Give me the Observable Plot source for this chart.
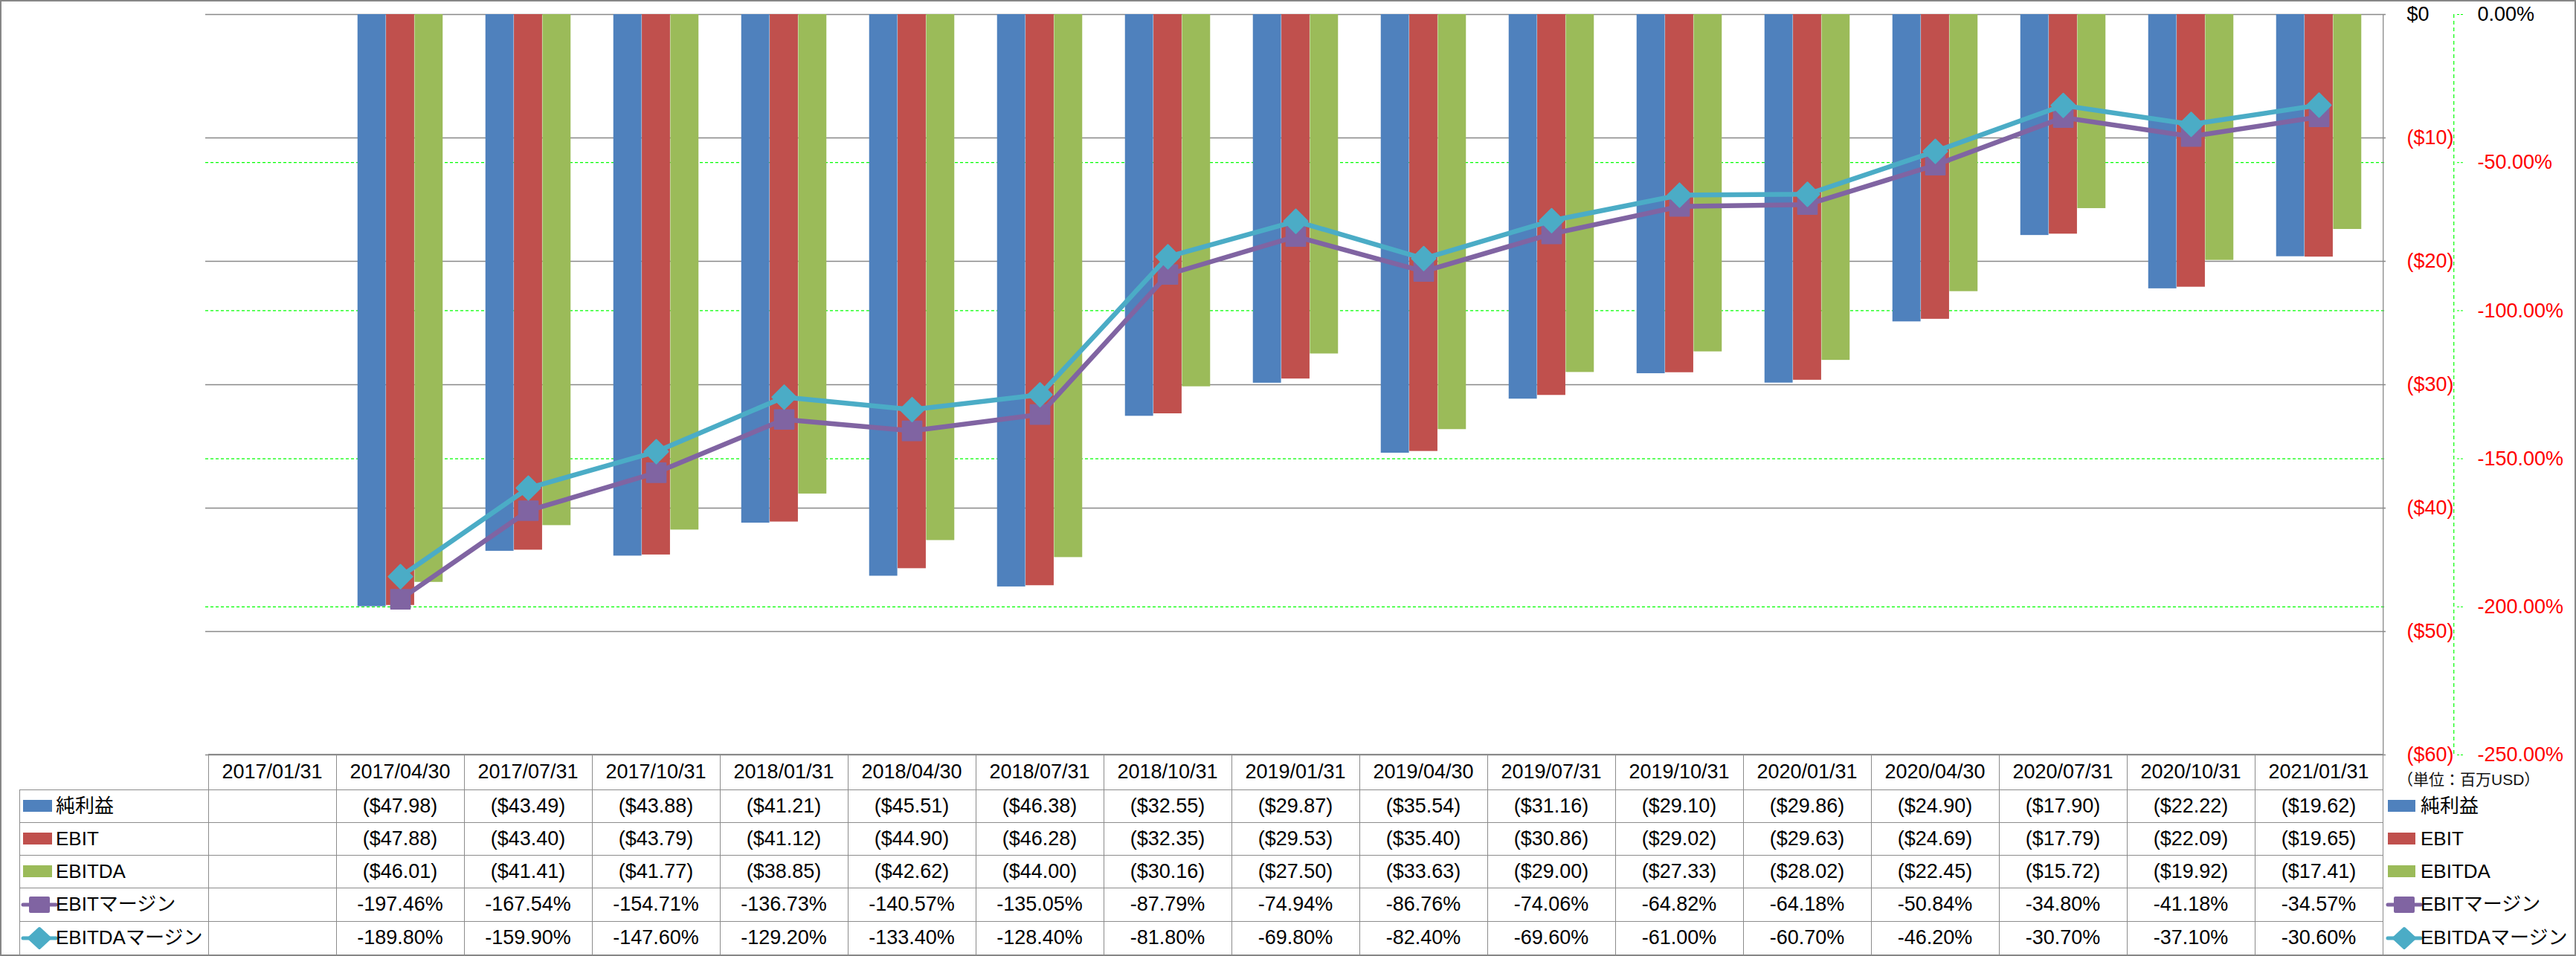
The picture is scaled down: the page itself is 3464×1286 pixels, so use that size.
<!DOCTYPE html>
<html>
<head>
<meta charset="utf-8">
<script src="https://cdn.jsdelivr.net/npm/d3@7"></script>
<script src="https://cdn.jsdelivr.net/npm/@observablehq/plot@0.6"></script>
<style>
  body { margin: 0; background: #fff; }
  #chart { position: relative; width: 3464px; height: 1286px; overflow: hidden;
           font-family: "Liberation Sans", "Noto Sans CJK JP", sans-serif; color: #000; }
  #chart svg { position: absolute; left: 0; top: 0; }
  #frame { position: absolute; left: 0; top: 0; width: 3464px; height: 1286px; box-sizing: border-box;
           border: 2px solid #878787; pointer-events: none; }
  .hl, .vl { position: absolute; background: #8c8c8c; }
  .cell { position: absolute; text-align: center; white-space: nowrap; font-size: 27px; }
  .lab { position: absolute; white-space: nowrap; font-size: 26px; text-align: left; }
  .sw { position: absolute; }
</style>
</head>
<body>
<div id="chart"></div>
<script>
// ---------------- data ----------------
const dates = ["2017/01/31","2017/04/30","2017/07/31","2017/10/31","2018/01/31","2018/04/30","2018/07/31","2018/10/31",
  "2019/01/31","2019/04/30","2019/07/31","2019/10/31","2020/01/31","2020/04/30","2020/07/31","2020/10/31","2021/01/31"];
const netIncome = [null,-47.98,-43.49,-43.88,-41.21,-45.51,-46.38,-32.55,-29.87,-35.54,-31.16,-29.10,-29.86,-24.90,-17.90,-22.22,-19.62];
const ebit      = [null,-47.88,-43.40,-43.79,-41.12,-44.90,-46.28,-32.35,-29.53,-35.40,-30.86,-29.02,-29.63,-24.69,-17.79,-22.09,-19.65];
const ebitda    = [null,-46.01,-41.41,-41.77,-38.85,-42.62,-44.00,-30.16,-27.50,-33.63,-29.00,-27.33,-28.02,-22.45,-15.72,-19.92,-17.41];
const ebitMargin   = [null,-197.46,-167.54,-154.71,-136.73,-140.57,-135.05,-87.79,-74.94,-86.76,-74.06,-64.82,-64.18,-50.84,-34.80,-41.18,-34.57];
const ebitdaMargin = [null,-189.80,-159.90,-147.60,-129.20,-133.40,-128.40,-81.80,-69.80,-82.40,-69.60,-61.00,-60.70,-46.20,-30.70,-37.10,-30.60];
const seriesNames = ["純利益","EBIT","EBITDA","EBITマージン","EBITDAマージン"];
const dollarTicks = [0,-10,-20,-30,-40,-50,-60];
const pctTicks = [0,-50,-100,-150,-200,-250];
const unitLabel = "（単位：百万USD）";

// ---------------- styles ----------------
const colors = ["#4F81BD","#C0504D","#9BBB59","#8064A2","#4BACC6"];
const PCT = 60 / 250; // secondary axis: -250% aligns with -$60

const W = 3464, H = 1286, ML = 276, MR = W - 3208, MT = 19, MB = H - 1015;
const bw = (W - ML - MR) / dates.length;
const barW = bw / 4.5;
const inset = (bw - barW) / 2;
const last = dates[dates.length - 1];

const rows = s => dates.map((d, i) => ({date: d, value: s[i]})).filter(r => r.value != null);
const fmtUSD = v => v === 0 ? "$0" : `($${Math.abs(v)})`;
const fmtPct = v => v.toFixed(2) + "%";

const plot = Plot.plot({
  width: W, height: H,
  marginLeft: ML, marginRight: MR, marginTop: MT, marginBottom: MB,
  x: {type: "band", domain: dates, padding: 0, axis: null},
  y: {domain: [-60, 0], axis: null},
  style: {fontFamily: '"Liberation Sans", "Noto Sans CJK JP", sans-serif', fontSize: "27px", background: "transparent", overflow: "visible"},
  marks: [
    Plot.ruleY(pctTicks.filter(p => p !== 0 && p !== -250), {y: p => p * PCT, stroke: "#00ff00", strokeWidth: 1.2, strokeDasharray: "4,3"}),
    Plot.ruleY(dollarTicks, {stroke: "#898989", strokeWidth: 1.3}),
    Plot.barY(rows(netIncome), {x: "date", y: "value", fill: colors[0], insetLeft: inset, insetRight: inset, dx: -barW}),
    Plot.barY(rows(ebit),      {x: "date", y: "value", fill: colors[1], insetLeft: inset, insetRight: inset}),
    Plot.barY(rows(ebitda),    {x: "date", y: "value", fill: colors[2], insetLeft: inset, insetRight: inset, dx: barW}),
    // right edge of plot area
    Plot.ruleX([last], {dx: bw / 2, stroke: "#898989", strokeWidth: 1.3}),
    // secondary axis line (green dashed)
    Plot.ruleX([last], {dx: bw / 2 + 95, stroke: "#00ff00", strokeWidth: 1.2, strokeDasharray: "5,4"}),
    Plot.axisY({anchor: "right", ticks: pctTicks.map(p => p * PCT), tickSize: 9, tickFormat: () => "", label: null,
                dx: 95, stroke: "#00ff00", strokeDasharray: "3,2"}),
    // margin lines
    Plot.line(rows(ebitMargin), {x: "date", y: d => d.value * PCT, stroke: colors[3], strokeWidth: 6.5}),
    Plot.dot(rows(ebitMargin), {x: "date", y: d => d.value * PCT, symbol: "square", r: 14.5, fill: colors[3], stroke: colors[3], strokeWidth: 2, strokeLinejoin: "round"}),
    Plot.line(rows(ebitdaMargin), {x: "date", y: d => d.value * PCT, stroke: colors[4], strokeWidth: 6.5}),
    Plot.dot(rows(ebitdaMargin), {x: "date", y: d => d.value * PCT, symbol: "diamond2", r: 14.5, fill: colors[4], stroke: colors[4], strokeWidth: 2, strokeLinejoin: "round"}),
    // axis labels
    Plot.text(dollarTicks, {y: d => d, frameAnchor: "right", dx: 28, textAnchor: "start", text: fmtUSD,
                            fill: d => d < 0 ? "#ff0000" : "#000000", fontSize: 27}),
    Plot.text(pctTicks, {y: d => d * PCT, frameAnchor: "right", dx: 123, textAnchor: "start", text: fmtPct,
                         fill: d => d < 0 ? "#ff0000" : "#000000", fontSize: 27})
  ]
});

const chart = document.getElementById("chart");
chart.appendChild(plot);

// ---------------- data table (below plot, aligned to x scale) ----------------
const xs = plot.scale("x");
const bandW = xs.bandwidth;
const labelLeft = 26;
const headerTop = 1014, headerBot = 1062;
const rowTops = [1062, 1106, 1150, 1194, 1239, 1284];
const tableRight = xs.apply(last) + bandW;

function add(cls, style, text) {
  const el = document.createElement("div");
  el.className = cls;
  Object.assign(el.style, style);
  if (text != null) el.textContent = text;
  chart.appendChild(el);
  return el;
}
// horizontal lines
add("hl", {left: xs.apply(dates[0]) + "px", top: headerTop + "px", width: (tableRight - xs.apply(dates[0])) + "px", height: "1.4px"});
rowTops.forEach(t => add("hl", {left: labelLeft + "px", top: t + "px", width: (tableRight - labelLeft) + "px", height: "1.4px"}));
// vertical lines
add("vl", {left: labelLeft + "px", top: headerBot + "px", width: "1.4px", height: (rowTops[5] - headerBot) + "px"});
dates.forEach(d => add("vl", {left: xs.apply(d) + "px", top: headerTop + "px", width: "1.4px", height: (rowTops[5] - headerTop) + "px"}));
add("vl", {left: tableRight + "px", top: headerTop + "px", width: "1.4px", height: (H - headerTop) + "px"});

// header
dates.forEach(d => add("cell", {left: xs.apply(d) + "px", top: headerTop + "px", width: bandW + "px", height: (headerBot - headerTop) + "px",
  lineHeight: (headerBot - headerTop) + "px"}, d));

const fmtCell = v => v == null ? "" : `($${Math.abs(v).toFixed(2)})`;
const fmtPctCell = v => v == null ? "" : v.toFixed(2) + "%";
const tableSeries = [[netIncome, fmtCell], [ebit, fmtCell], [ebitda, fmtCell], [ebitMargin, fmtPctCell], [ebitdaMargin, fmtPctCell]];
tableSeries.forEach(([s, f], r) => {
  const top = rowTops[r], h = rowTops[r + 1] - top;
  dates.forEach((d, i) => add("cell", {left: xs.apply(d) + "px", top: top + "px", width: bandW + "px", height: h + "px", lineHeight: h + "px"}, f(s[i])));
});

// legend keys (in table label column and at right)
function key(r, x0, w, textX) {
  const top = rowTops[r], h = rowTops[r + 1] - top, cy = top + h / 2;
  if (r < 3) {
    add("sw", {left: x0 + "px", top: (cy - 8) + "px", width: w + "px", height: "16px", background: colors[r]});
  } else {
    const ns = "http://www.w3.org/2000/svg";
    const svg = document.createElementNS(ns, "svg");
    svg.setAttribute("width", w + 4); svg.setAttribute("height", 30);
    Object.assign(svg.style, {position: "absolute", left: (x0 - 2) + "px", top: (cy - 15) + "px", overflow: "visible"});
    const line = document.createElementNS(ns, "line");
    line.setAttribute("x1", 2); line.setAttribute("x2", w + 2); line.setAttribute("y1", 15); line.setAttribute("y2", 15);
    line.setAttribute("stroke", colors[r]); line.setAttribute("stroke-width", 5); line.setAttribute("stroke-linecap", "round");
    svg.appendChild(line);
    const m = document.createElementNS(ns, "path");
    const c = w / 2 + 2;
    m.setAttribute("d", r === 3
      ? `M${c-12},6 h24 v18 h-24 Z`
      : `M${c},2 L${c+14},15 L${c},28 L${c-14},15 Z`);
    m.setAttribute("fill", colors[r]); m.setAttribute("stroke", colors[r]); m.setAttribute("stroke-width", 4); m.setAttribute("stroke-linejoin", "round");
    svg.appendChild(m);
    chart.appendChild(svg);
  }
  add("lab", {left: textX + "px", top: top + "px", height: h + "px", lineHeight: h + "px"}, seriesNames[r]);
}
seriesNames.forEach((n, r) => { key(r, 31, r < 3 ? 39 : 44, 75); key(r, tableRight + 7, r < 3 ? 37 : 44, tableRight + 51); });

// unit label
add("lab", {left: (tableRight + 20) + "px", top: "1036px", fontSize: "21px", lineHeight: "26px", color: "#111"}, unitLabel);

add("", {}, null).id = "frame";
</script>
</body>
</html>
